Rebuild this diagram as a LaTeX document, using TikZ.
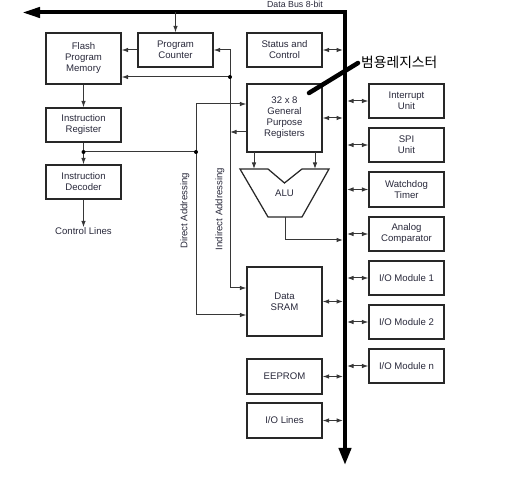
\documentclass[tikz,border=0pt]{standalone}
\usepackage{fontspec}
\setmainfont{Liberation Sans}
\newfontfamily\krfont{Noto Sans CJK KR}
\usetikzlibrary{arrows.meta}
\definecolor{txt}{RGB}{40,40,58}
\definecolor{edge}{RGB}{40,40,40}
\definecolor{wirec}{RGB}{55,55,55}
\begin{document}
\begin{tikzpicture}[x=1pt,y=-1pt,
  blk/.style={draw=edge, line width=1.25pt, minimum width=75pt, text=txt,
    font=\fontsize{9.6}{11}\selectfont, align=center, inner sep=0pt},
  wire/.style={draw=wirec, line width=1pt},
  arr/.style={wire, -{Latex[length=6.5pt,width=4.6pt]}},
  darr/.style={wire, {Latex[length=6.5pt,width=4.6pt]}-{Latex[length=6.5pt,width=4.6pt]}},
  lbl/.style={text=txt, font=\fontsize{9.6}{11}\selectfont, inner sep=0pt},
  jdot/.style={circle, fill=black, inner sep=0pt, minimum size=4pt},
]
\useasboundingbox (0,0) rectangle (507,478);

% bus
\draw[line width=4pt, {Triangle[length=18pt,width=10pt]}-{Triangle[length=17pt,width=12pt]}]
  (22,12.5) -- (345,12.5) -- (345,465);
\node[lbl, font=\fontsize{8.8}{10}\selectfont] (busl) at (295,4.5) {Data Bus 8-bit};
\coordinate (bl) at (343,0);
\coordinate (br) at (347,0);

% left column
\node[blk, minimum height=51pt] (flash) at (83.5,58.5) {Flash\\Program\\Memory};
\node[blk, minimum height=34pt] (pc) at (175.5,50) {Program\\Counter};
\node[blk, minimum height=34pt] (ir) at (83.5,125) {Instruction\\Register};
\node[blk, minimum height=34pt] (id) at (83.5,182) {Instruction\\Decoder};
\node[lbl] (cl) at (83.5,231) {Control Lines};

% middle column
\node[blk, minimum height=34pt] (sc) at (284.5,50) {Status and\\Control};
\node[blk, minimum height=68pt] (gpr) at (284.5,118) {32 x 8\\General\\Purpose\\Registers};
\node[blk, minimum height=69pt] (sram) at (284.5,301.5) {Data\\SRAM};
\node[blk, minimum height=35pt] (eep) at (284.5,376.5) {EEPROM};
\node[blk, minimum height=35pt] (iol) at (284.5,420.5) {I/O Lines};

% right column
\node[blk, minimum height=34pt] (intu) at (406.5,101) {Interrupt\\Unit};
\node[blk, minimum height=34pt] (spi) at (406.5,145) {SPI\\Unit};
\node[blk, minimum height=35pt] (wdt) at (406.5,189.5) {Watchdog\\Timer};
\node[blk, minimum height=34pt] (ac) at (406.5,234) {Analog\\Comparator};
\node[blk, minimum height=34pt] (io1) at (406.5,278) {I/O Module 1};
\node[blk, minimum height=34pt] (io2) at (406.5,322) {I/O Module 2};
\node[blk, minimum height=34pt] (ion) at (406.5,366) {I/O Module n};

% ALU
\coordinate (a1) at (240,169);
\coordinate (a2) at (268,169);
\coordinate (a3) at (284.5,183);
\coordinate (a4) at (302,169);
\coordinate (a5) at (329,169);
\coordinate (a6) at (302,217);
\coordinate (a7) at (268,217);
\draw[draw=edge, line width=1.25pt, line join=miter] (a1) -- (a2) -- (a3) -- (a4) -- (a5) -- (a6) -- (a7) -- cycle;
\node[lbl] (alu) at (284.5,193) {ALU};

% bus connections
\foreach \b in {sc,gpr,sram,eep,iol}{
  \draw[darr] (\b.east) -- (\b.east -| bl);
}
\foreach \b in {intu,spi,wdt,ac,io1,io2,ion}{
  \draw[darr] (\b.west) -- (\b.west -| br);
}

% program flow
\coordinate (tpc) at (175.5,12.5);
\draw[arr] (tpc) -- (pc.north);
\draw[arr] (pc.west) -- (pc.west -| flash.east);
\draw[arr] (flash.south) -- (ir.north);
\coordinate (irj) at (83.5,152);
\draw[arr] (ir.south) -- (id.north);
\draw[arr] (id.south) -- (cl.north);

% indirect addressing line
\coordinate (i1) at (230,50);
\coordinate (i2) at (230,77);
\coordinate (i3) at (230,288);
\coordinate (i4) at (230,132);
\draw[arr] (i3) -- (i1) -- (pc.east);
\draw[arr] (i2) -- (i2 -| flash.east);
\draw[arr] (i4 -| gpr.west) -- (i4);
\draw[arr] (i3) -- (i3 -| sram.west);
\node[jdot] at (i2) {};
\node[lbl, rotate=90] (indl) at (220,209) {Indirect Addressing};

% direct addressing line
\coordinate (d1) at (196,104);
\coordinate (d2) at (196,152);
\coordinate (d3) at (196,315);
\draw[arr] (d3) -- (d1) -- (d1 -| gpr.west);
\draw[arr] (d3) -- (d3 -| sram.west);
\draw[wire] (irj) -- (d2);
\node[jdot] at (irj) {};
\node[jdot] at (d2) {};
\node[lbl, rotate=90] (dirl) at (185,211) {Direct Addressing};

% GPR to ALU
\coordinate (g1) at (254,152);
\coordinate (g2) at (254,169);
\coordinate (g3) at (315,152);
\coordinate (g4) at (315,169);
\draw[arr] (g1) -- (g2);
\draw[arr] (g3) -- (g4);

% ALU output
\coordinate (o1) at (285,217);
\coordinate (o2) at (285,240);
\draw[arr] (o1) -- (o2) -- (o2 -| bl);

% Korean label
\node[anchor=west, inner sep=0pt, font=\krfont\fontsize{13.8}{15}\selectfont] (kl) at (361,62) {범용레지스터};
\coordinate (ka) at (358,63);
\coordinate (kb) at (309,93);
\draw[line width=4.5pt, line cap=round] (ka) -- (kb);
\end{tikzpicture}
\end{document}
